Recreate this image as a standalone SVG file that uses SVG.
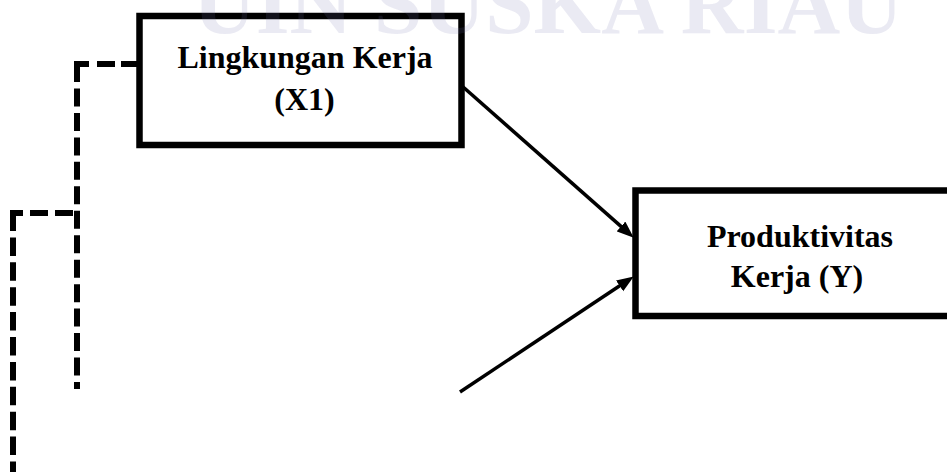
<svg xmlns="http://www.w3.org/2000/svg" width="947" height="472" viewBox="0 0 947 472">
  <style>
    .box { fill: #ffffff; stroke: #000000; stroke-width: 6.5; }
    .label { font-family: "Liberation Serif", "Times New Roman", serif; font-weight: bold; font-size: 32px; fill: #000000; text-anchor: middle; }
    .mark { font-family: "Liberation Serif", "Times New Roman", serif; font-weight: bold; font-size: 87px; fill: #7070b0; fill-opacity: 0.15; }
    .arrow { stroke: #000000; stroke-width: 3.5; fill: none; }
    .dash { stroke: #000000; stroke-width: 6; fill: none; }
  </style>
  <defs>
    <marker id="head" markerUnits="userSpaceOnUse" markerWidth="18" markerHeight="14" refX="6" refY="6.5" orient="auto">
      <path d="M0,0 L17,6.5 L0,13 z" fill="#000000"/>
    </marker>
  </defs>

  <rect width="947" height="472" fill="#ffffff"/>

  <g id="connectors">
    <!-- dashed brackets on the left -->
    <path class="dash" d="M137,64 H74" stroke-dasharray="16 6 18 8 20"/>
    <path class="dash" d="M77,64 V389" stroke-dasharray="18 6.46"/>
    <path class="dash" d="M73,213 H10" stroke-dasharray="18 7"/>
    <path class="dash" d="M13,210 V480" stroke-dasharray="21 6.4 18.5 6.4 18.5 6.4 18.5 6.4 18.5 6.4 18.5 6.4 18.5 6.4 18.5 6.4 18.5 6.4 18.5 6.4 18.5 6.4"/>
    <!-- arrows into Produktivitas Kerja -->
    <line class="arrow" x1="462" y1="86" x2="625.5" y2="230.4" marker-end="url(#head)"/>
    <line class="arrow" x1="460" y1="392" x2="624.6" y2="282.5" marker-end="url(#head)"/>
  </g>

  <g id="node-x1">
    <rect class="box" x="139.5" y="16" width="322" height="129"/>
    <text class="label" x="305" y="68">Lingkungan Kerja</text>
    <text class="label" x="304.5" y="110">(X1)</text>
  </g>

  <g id="node-y">
    <rect class="box" x="635.5" y="190.5" width="330" height="125.5"/>
    <text class="label" x="800" y="247">Produktivitas</text>
    <text class="label" x="797" y="287">Kerja (Y)</text>
  </g>

  <!-- faint letterhead text laid over the page -->
  <text class="mark" x="193" y="33" textLength="710" lengthAdjust="spacingAndGlyphs">UIN SUSKA RIAU</text>
</svg>
